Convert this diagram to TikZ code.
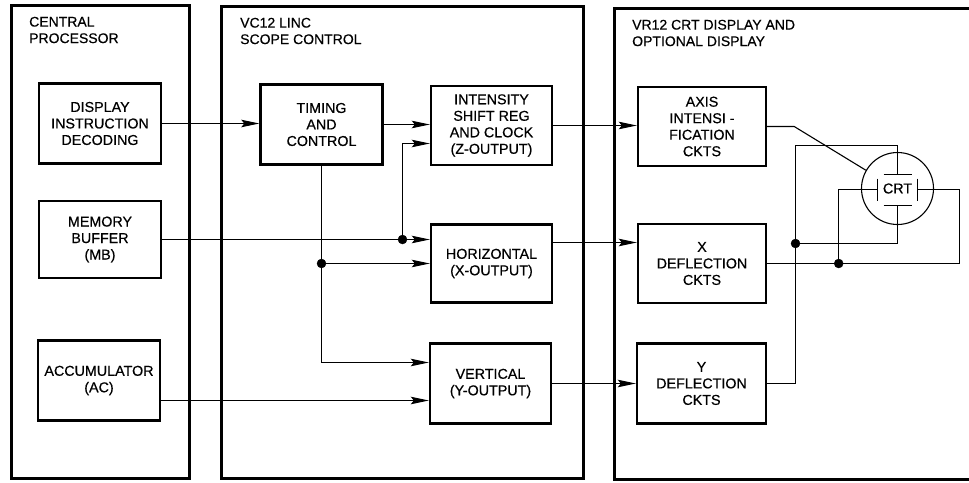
\documentclass[tikz,border=0pt]{standalone}
\usepackage{fontspec}
\setmainfont{Liberation Sans}[FakeBold = 0.5]
\usetikzlibrary{arrows.meta, calc}

\begin{document}
\begin{tikzpicture}[> = {Stealth[length = 18pt, width = 7.5pt, inset = 3pt]},
        x = 1pt, y = -1pt,
        panel/.style = {line width = 3.0pt},
        block/.style = {draw, line width = 2.4pt, align = center, inner sep = 0pt,
            font = \fontsize{14.3}{16.5}\selectfont},
        heading/.style = {align = left, inner sep = 0pt, anchor = west,
            font = \fontsize{14}{16.5}\selectfont},
        wire/.style = {line width = 1.1pt},
        plate/.style = {line width = 1.6pt}]

        \useasboundingbox (0, 0) rectangle (969, 482);

        % Outer frames of the three units.
        \draw[panel] (11, 5) rectangle (189, 478);
        \draw[panel] (221, 6) rectangle (583, 478);
        \draw[panel] (975, 8) to (614, 8) to (614, 479) to (975, 479);

        % Headings of the units.
        \node[heading] (cphead) at (29, 30) {CENTRAL\\PROCESSOR};
        \node[heading] (schead) at (240, 31) {VC12 LINC\\SCOPE CONTROL};
        \node[heading] (crthead) at (632, 33) {VR12 CRT DISPLAY AND\\OPTIONAL DISPLAY};

        % Central processor blocks.
        \node[block, minimum width = 122, minimum height = 80] (did) at (100, 123.5) {DISPLAY\\INSTRUCTION\\DECODING};
        \node[block, minimum width = 122, minimum height = 77] (mb) at (100, 239.5) {MEMORY\\BUFFER\\(MB)};
        \node[block, minimum width = 122, minimum height = 80] (ac) at (99, 380.5) {ACCUMULATOR\\(AC)};

        % Scope control blocks.
        \node[block, minimum width = 122, minimum height = 80] (tc) at (321.5, 124.5) {TIMING\\AND\\CONTROL};
        \node[block, minimum width = 121, minimum height = 79] (isr) at (491.5, 125.5) {INTENSITY\\SHIFT REG\\AND CLOCK\\(Z-OUTPUT)};
        \node[block, minimum width = 121, minimum height = 78] (hor) at (491.5, 263.5) {HORIZONTAL\\(X-OUTPUT)};
        \node[block, minimum width = 121, minimum height = 80] (ver) at (490.5, 383.5) {VERTICAL\\(Y-OUTPUT)};

        % Display blocks.
        \node[block, minimum width = 128, minimum height = 79] (axis) at (702, 126.5) {AXIS\\INTENSI -\\FICATION\\CKTS};
        \node[block, minimum width = 128, minimum height = 79] (xd) at (702, 263.5) {X\\DEFLECTION\\CKTS};
        \node[block, minimum width = 129, minimum height = 80] (yd) at (701.5, 383.5) {Y\\DEFLECTION\\CKTS};

        % The tube and its plates.
        \node[draw, circle, wire, minimum size = 72, inner sep = 0pt,
            font = \fontsize{14.3}{16.5}\selectfont] (crt) at (897.5, 188.5) {CRT};
        \coordinate (ptop) at ($(crt) + (0, -14)$);
        \coordinate (pbot) at ($(crt) + (0, 17)$);
        \coordinate (pleft) at ($(crt) + (-20, 1)$);
        \coordinate (pright) at ($(crt) + (20, 1)$);
        \draw[plate] ($(ptop) + (-14, 0)$) to ($(ptop) + (14, 0)$);
        \draw[plate] ($(pbot) + (-14, 0)$) to ($(pbot) + (14, 0)$);
        \draw[plate] ($(pleft) + (0, -11)$) to ($(pleft) + (0, 11)$);
        \draw[plate] ($(pright) + (0, -11)$) to ($(pright) + (0, 11)$);

        % Junction points.
        \coordinate (j1) at (402.5, 239.5);
        \coordinate (j2) at (tc.south |- hor.west);
        \coordinate (yj) at (795.5, 243.5);
        \coordinate (xj) at ($(xd.east) + (71.5, 0)$);
        \coordinate (acout) at ($(ac.east) + (0, 20)$);
        \coordinate (hout) at ($(hor.east) + (0, -21)$);

        % Signal paths.
        \draw[wire, ->] (did.east) to (did.east -| tc.west);
        \draw[wire, ->] (tc.east) to (tc.east -| isr.west);
        \draw[wire, ->] (mb.east) to (mb.east -| hor.west);
        \draw[wire, ->] (j1) |- ($(isr.west) + (0, 18)$);
        \draw[wire, ->] (tc.south) |- ($(ver.west) + (0, -21)$);
        \draw[wire, ->] (j2) to (hor.west);
        \draw[wire, ->] (acout) to (acout -| ver.west);
        \draw[wire, ->] (isr.east) to (isr.east -| axis.west);
        \draw[wire, ->] (hout) to (hout -| xd.west);
        \draw[wire, ->] (ver.east) to (ver.east -| yd.west);

        % Wiring to the tube.
        \draw[wire] (axis.east) to ++(27, 0) to (crt.150);
        \draw[wire] (yd.east) -| (yj) |- ($(ptop) + (0, -29)$) to (ptop);
        \draw[wire] (pbot) |- (yj);
        \draw[wire] (xd.east) -| ($(pright) + (42, 0)$) to (pright);
        \draw[wire] (pleft) -| (xj);

        % Place dots at the junctions.
        \draw[fill = black] (j1) circle (4.5);
        \draw[fill = black] (j2) circle (4.5);
        \draw[fill = black] (yj) circle (4.5);
        \draw[fill = black] (xj) circle (4.5);
    \end{tikzpicture}
\end{document}
